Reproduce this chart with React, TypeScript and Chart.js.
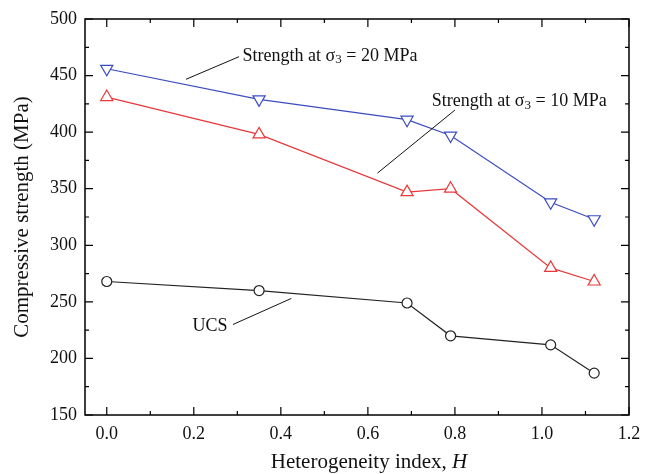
import { useEffect, useRef } from 'react';
import { Chart, registerables } from 'chart.js';

Chart.register(...registerables);

// ---- data ----
const hValues = [0, 0.35, 0.69, 0.79, 1.02, 1.12];
const strength20 = [456, 429, 411, 397, 338, 323];
const strength10 = [431, 398, 347, 350, 280, 268];
const ucsValues = [268, 260, 249, 220, 212, 187];

const xMajorTicks = [0, 0.2, 0.4, 0.6, 0.8, 1.0, 1.2];
const xMinorTicks = [0.1, 0.3, 0.5, 0.7, 0.9, 1.1];
const yMajorTicks = [150, 200, 250, 300, 350, 400, 450, 500];
const yMinorTicks = [175, 225, 275, 325, 375, 425, 475];

const xTitle = 'Heterogeneity index, ';
const xTitleItalic = 'H';
const yTitle = 'Compressive strength (MPa)';

// annotation labels (text anchor and leader line in data coordinates)
const annotations = [
  { parts: ['Strength at σ', '3', ' = 20 MPa'], at: [0.312, 467.3], line: [[0.182, 446.7], [0.304, 466.7]] },
  { parts: ['Strength at σ', '3', ' = 10 MPa'], at: [0.747, 426.9], line: [[0.8, 419.5], [0.622, 363.8]] },
  { parts: ['UCS', '', ''], at: [0.197, 228], line: [[0.29, 230], [0.424, 253]] },
];

const FONT = 'Liberation Serif';
const FS = 18;
const TITLE_FS = 21;

const framePlugin = {
  id: 'framePlugin',
  afterDraw(chart: any) {
    const { ctx, chartArea: a, scales } = chart;
    const xs = scales.x;
    const ys = scales.y;
    ctx.save();
    ctx.strokeStyle = '#000';
    ctx.lineWidth = 1.5;
    ctx.strokeRect(a.left, a.top, a.right - a.left, a.bottom - a.top);
    ctx.lineWidth = 1.2;
    ctx.beginPath();
    const tickX = (v: number, len: number) => {
      const px = xs.getPixelForValue(v);
      ctx.moveTo(px, a.bottom);
      ctx.lineTo(px, a.bottom - len);
      ctx.moveTo(px, a.top);
      ctx.lineTo(px, a.top + len);
    };
    const tickY = (v: number, len: number) => {
      const py = ys.getPixelForValue(v);
      ctx.moveTo(a.left, py);
      ctx.lineTo(a.left + len, py);
      ctx.moveTo(a.right, py);
      ctx.lineTo(a.right - len, py);
    };
    xMajorTicks.forEach((v) => tickX(v, 8));
    xMinorTicks.forEach((v) => tickX(v, 4));
    yMajorTicks.forEach((v) => tickY(v, 8));
    yMinorTicks.forEach((v) => tickY(v, 4));
    ctx.stroke();

    // annotations
    ctx.fillStyle = '#111';
    ctx.strokeStyle = '#111';
    ctx.lineWidth = 1;
    annotations.forEach((an) => {
      ctx.beginPath();
      ctx.moveTo(xs.getPixelForValue(an.line[0][0]), ys.getPixelForValue(an.line[0][1]));
      ctx.lineTo(xs.getPixelForValue(an.line[1][0]), ys.getPixelForValue(an.line[1][1]));
      ctx.stroke();
      let x = xs.getPixelForValue(an.at[0]);
      const y = ys.getPixelForValue(an.at[1]);
      ctx.textBaseline = 'middle';
      ctx.textAlign = 'left';
      ctx.font = `${FS}px "${FONT}"`;
      ctx.fillText(an.parts[0], x, y);
      x += ctx.measureText(an.parts[0]).width;
      if (an.parts[1]) {
        ctx.font = `${Math.round(FS * 0.7)}px "${FONT}"`;
        ctx.fillText(an.parts[1], x, y + 4);
        x += ctx.measureText(an.parts[1]).width;
      }
      if (an.parts[2]) {
        ctx.font = `${FS}px "${FONT}"`;
        ctx.fillText(an.parts[2], x, y);
      }
    });

    // axis titles
    ctx.fillStyle = '#111';
    ctx.textBaseline = 'middle';
    ctx.font = `${TITLE_FS}px "${FONT}"`;
    const w1 = ctx.measureText(xTitle).width;
    ctx.font = `italic ${TITLE_FS}px "${FONT}"`;
    const w2 = ctx.measureText(xTitleItalic).width;
    const cx = (a.left + a.right) / 2 + 12;
    const sx = cx - (w1 + w2) / 2;
    ctx.textAlign = 'left';
    ctx.font = `${TITLE_FS}px "${FONT}"`;
    ctx.fillText(xTitle, sx, 462);
    ctx.font = `italic ${TITLE_FS}px "${FONT}"`;
    ctx.fillText(xTitleItalic, sx + w1, 462);

    ctx.save();
    ctx.translate(22, (a.top + a.bottom) / 2);
    ctx.rotate(-Math.PI / 2);
    ctx.textAlign = 'center';
    ctx.font = `${TITLE_FS}px "${FONT}"`;
    ctx.fillText(yTitle, 0, 0);
    ctx.restore();
    ctx.restore();
  },
};

export default function App() {
  const ref = useRef<HTMLCanvasElement | null>(null);
  useEffect(() => {
    document.body.style.margin = '0';
    if (!ref.current) return;
    const mk = (vals: number[]) => hValues.map((h, i) => ({ x: h, y: vals[i] }));
    const chart = new Chart(ref.current, {
      type: 'line',
      data: {
        datasets: [
          {
            label: 'σ3 = 20 MPa',
            data: mk(strength20),
            borderColor: '#3b4cc0',
            backgroundColor: '#ffffff',
            pointBorderColor: '#3b4cc0',
            pointBackgroundColor: '#ffffff',
            pointStyle: 'triangle',
            rotation: 180,
            pointRadius: 7,
            pointBorderWidth: 1.2,
            borderWidth: 1.2,
            tension: 0,
          },
          {
            label: 'σ3 = 10 MPa',
            data: mk(strength10),
            borderColor: '#e8383a',
            backgroundColor: '#ffffff',
            pointBorderColor: '#e8383a',
            pointBackgroundColor: '#ffffff',
            pointStyle: 'triangle',
            pointRadius: 7,
            pointBorderWidth: 1.2,
            borderWidth: 1.2,
            tension: 0,
          },
          {
            label: 'UCS',
            data: mk(ucsValues),
            borderColor: '#222222',
            backgroundColor: '#ffffff',
            pointBorderColor: '#222222',
            pointBackgroundColor: '#ffffff',
            pointStyle: 'circle',
            pointRadius: 5,
            pointBorderWidth: 1.2,
            borderWidth: 1.2,
            tension: 0,
          },
        ],
      },
      options: {
        responsive: false,
        animation: false,
        devicePixelRatio: 1,
        layout: { padding: { top: 19, right: 20, left: 0, bottom: 0 } },
        plugins: { legend: { display: false }, tooltip: { enabled: false } },
        scales: {
          x: {
            type: 'linear',
            min: -0.05,
            max: 1.2,
            grid: { display: false, drawTicks: false },
            border: { display: false },
            afterBuildTicks: (s: any) => {
              s.ticks = xMajorTicks.map((v) => ({ value: v }));
            },
            afterFit: (s: any) => {
              s.height = 59;
            },
            ticks: {
              padding: 8,
              color: '#111',
              font: { family: FONT, size: FS },
              callback: (v: any) => Number(v).toFixed(1),
            },
          },
          y: {
            type: 'linear',
            min: 150,
            max: 500,
            grid: { display: false, drawTicks: false },
            border: { display: false },
            afterBuildTicks: (s: any) => {
              s.ticks = yMajorTicks.map((v) => ({ value: v }));
            },
            afterFit: (s: any) => {
              s.width = 85;
            },
            ticks: {
              padding: 8,
              color: '#111',
              font: { family: FONT, size: FS },
              callback: (v: any) => String(v),
            },
          },
        },
      },
      plugins: [framePlugin],
    });
    return () => chart.destroy();
  }, []);
  return (
    <div style={{ width: 649, height: 474, background: '#fff' }}>
      <canvas ref={ref} width={649} height={474} />
    </div>
  );
}
